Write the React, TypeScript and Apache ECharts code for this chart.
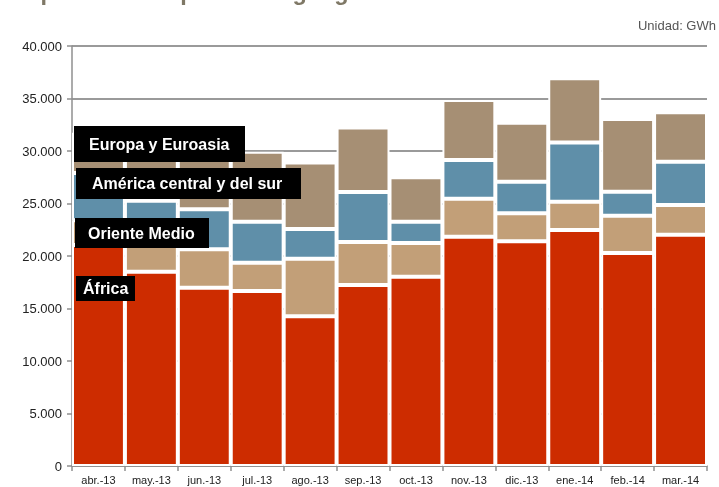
import React, { useEffect, useRef } from "react";
import * as echarts from "echarts";

const categories = [
  "abr.-13", "may.-13", "jun.-13", "jul.-13", "ago.-13", "sep.-13",
  "oct.-13", "nov.-13", "dic.-13", "ene.-14", "feb.-14", "mar.-14",
];
const africa = [21050, 18500, 16980, 16670, 14270, 17240, 18030, 21840, 21400, 22480, 20290, 22030];
const orienteMedio = [2350, 3700, 3660, 2690, 5480, 4090, 3210, 3620, 2660, 2690, 3550, 2830];
const americaCentralSur = [4500, 3070, 3810, 3910, 2820, 4770, 2030, 3680, 3020, 5630, 2290, 4120];
const europaEuroasia = [3840, 4400, 5350, 6660, 6330, 6150, 4230, 5720, 5620, 6120, 6920, 4700];

const seriesNames = ["África", "Oriente Medio", "América central y del sur", "Europa y Euroasia"];
const seriesColors = ["#CD2C00", "#C29F78", "#5F8FA9", "#A68F74"];
const seriesData = [africa, orienteMedio, americaCentralSur, europaEuroasia];

const fmt = (v: number) => String(v).replace(/\B(?=(\d{3})+(?!\d))/g, ".");

export default function App() {
  const ref = useRef<HTMLDivElement>(null);
  useEffect(() => {
    if (!ref.current) return;
    const chart = echarts.init(ref.current, null, { renderer: "svg" });
    const font = "Liberation Sans, Arial, sans-serif";
    const labelBox = (x: number, y: number, w: number, h: number, tx: number, text: string) => [
      { type: "rect", shape: { x, y, width: w, height: h }, style: { fill: "#000" }, z: 100 },
      {
        type: "text", x: tx, y: y + h / 2, z: 101,
        style: { text, fill: "#fff", font: `bold 16px ${font}`, verticalAlign: "middle", align: "left" },
      },
    ];
    chart.setOption({
      animation: false,
      grid: { left: 72, right: 12, top: 46, bottom: 21, containLabel: false },
      xAxis: {
        type: "category",
        data: categories,
        axisLine: { lineStyle: { color: "#8f8f8f", width: 1.5 } },
        axisTick: { show: true, length: 5, lineStyle: { color: "#8f8f8f", width: 1.5 } },
        axisLabel: { color: "#222", fontSize: 11, fontFamily: font, margin: 8, interval: 0 },
      },
      yAxis: {
        type: "value",
        min: 0,
        max: 40000,
        interval: 5000,
        axisLine: { show: true, lineStyle: { color: "#8f8f8f", width: 1.5 } },
        axisTick: { show: true, length: 5, lineStyle: { color: "#8f8f8f", width: 1.5 } },
        splitLine: { show: true, lineStyle: { color: "#9a9a9a", width: 2 } },
        axisLabel: { color: "#222", fontSize: 13, fontFamily: font, margin: 10, formatter: (v: number) => fmt(v) },
      },
      series: seriesData.map((d, i) => ({
        name: seriesNames[i],
        type: "bar",
        stack: "total",
        data: d,
        barCategoryGap: "0%",
        itemStyle: { color: seriesColors[i], borderColor: "#fff", borderWidth: 2 },
      })),
      graphic: [
        {
          type: "text", x: 13, y: -20, z: 100,
          style: { text: "Importaciones por áreas geográficas", fill: "#7F7866", font: `bold 23.5px ${font}` },
        },
        {
          type: "text", x: 716, y: 25, z: 100,
          style: { text: "Unidad: GWh", fill: "#555", font: `13px ${font}`, align: "right", verticalAlign: "middle" },
        },
        ...labelBox(74, 126, 171, 36, 89, seriesNames[3]),
        ...labelBox(76, 168, 225, 31, 92, seriesNames[2]),
        ...labelBox(75, 218, 134, 30, 88, seriesNames[1]),
        ...labelBox(76, 276, 59, 25, 83, seriesNames[0]),
      ],
    });
    return () => chart.dispose();
  }, []);
  return <div ref={ref} style={{ position: "fixed", left: 0, top: 0, width: 719, height: 487 }} />;
}
